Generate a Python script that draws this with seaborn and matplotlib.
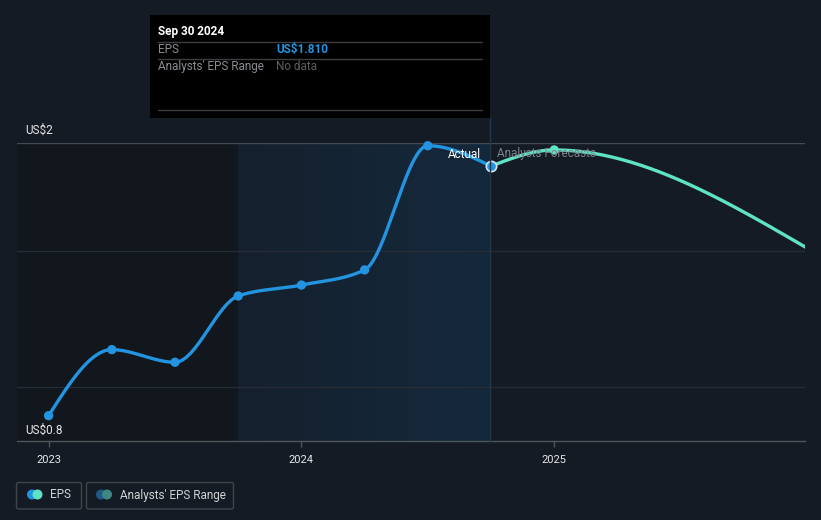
import numpy as np
import pandas as pd
import matplotlib
matplotlib.use("Agg")
import matplotlib.pyplot as plt
from matplotlib.patches import Rectangle, FancyBboxPatch, Circle
import seaborn as sns

# ---------------- data ----------------
actual_dates = [2023.0, 2023.25, 2023.5, 2023.75, 2024.0, 2024.25, 2024.5, 2024.75]
actual_eps = [0.902, 1.168, 1.117, 1.384, 1.428, 1.489, 1.989, 1.907]
forecast_dates = [2024.75, 2025.0, 2026.0]
forecast_eps = [1.907, 1.972, 1.577]
year_ticks = [2023.0, 2024.0, 2025.0]
year_labels = ["2023", "2024", "2025"]
y_labels = ["US$2", "US$0.8"]
grid_values = [1.017, 1.565, 2.0]
tooltip_date = "Sep 30 2024"
tooltip_eps = "US$1.810"

BG = "#151b24"
BLUE = "#2394e0"
TEAL = "#5fe3c6"

sns.set_theme(style="dark")
plt.rcParams["font.family"] = ["Roboto", "DejaVu Sans"]


def monotone(x, y, n=80):
    x = np.asarray(x, float)
    y = np.asarray(y, float)
    h = np.diff(x)
    s = np.diff(y) / h
    m = len(x)
    t = np.zeros(m)
    sg = lambda v: -1.0 if v < 0 else 1.0
    for i in range(1, m - 1):
        p = (s[i - 1] * h[i] + s[i] * h[i - 1]) / (h[i - 1] + h[i])
        t[i] = (sg(s[i - 1]) + sg(s[i])) * min(abs(s[i - 1]), abs(s[i]), 0.5 * abs(p))
    if m > 2:
        t[0] = (3 * s[0] - t[1]) / 2
        t[-1] = (3 * s[-1] - t[-2]) / 2
    else:
        t[:] = s[0]
    xs, ys = [], []
    for i in range(m - 1):
        u = np.linspace(0, 1, n, endpoint=(i == m - 2))
        h00 = 2 * u**3 - 3 * u**2 + 1
        h10 = u**3 - 2 * u**2 + u
        h01 = -2 * u**3 + 3 * u**2
        h11 = u**3 - u**2
        xs.append(x[i] + u * h[i])
        ys.append(h00 * y[i] + h10 * h[i] * t[i] + h01 * y[i + 1] + h11 * h[i] * t[i + 1])
    return np.concatenate(xs), np.concatenate(ys)


W, H = 821, 520
fig = plt.figure(figsize=(W / 100, H / 100), dpi=100, facecolor=BG)

x0, x1, ytop, ybot = 17, 805, 143, 441
ax = fig.add_axes([x0 / W, (H - ybot) / H, (x1 - x0) / W, (ybot - ytop) / H])
ax.set_facecolor(BG)
xmin, xmax = 2022.875, 2025.992
ymin, ymax = 0.8, 2.0
ax.set_xlim(xmin, xmax)
ax.set_ylim(ymin, ymax)

# shaded regions
ax.axvspan(xmin, 2023.75, color="#12161d", zorder=0, lw=0)
grad = np.linspace(0, 1, 256).reshape(1, -1)
from matplotlib.colors import LinearSegmentedColormap
cmap = LinearSegmentedColormap.from_list("hl", ["#14202d", "#15293c"])
ax.imshow(grad, extent=[2023.75, 2024.75, ymin, ymax], aspect="auto", cmap=cmap,
          zorder=0.5, interpolation="bicubic")
ax.set_xlim(xmin, xmax)
ax.set_ylim(ymin, ymax)

# gridlines
for g in grid_values:
    col = "#454a52" if g == ymax else "#262c35"
    ax.axhline(g, color=col, lw=1, zorder=1)

# lines
ax_x, ax_y = monotone(actual_dates, actual_eps)
fx, fy = monotone(forecast_dates, forecast_eps)
sns.lineplot(x=fx, y=fy, ax=ax, color=TEAL, lw=2.4, zorder=3, sort=False)
sns.lineplot(x=ax_x, y=ax_y, ax=ax, color=BLUE, lw=2.4, zorder=4, sort=False)
sns.scatterplot(x=forecast_dates[1:2], y=forecast_eps[1:2], ax=ax, color=TEAL, s=45,
                edgecolor="none", zorder=5, clip_on=False)
sns.scatterplot(x=actual_dates[:-1], y=actual_eps[:-1], ax=ax, color=BLUE, s=45,
                edgecolor="none", zorder=5, clip_on=False)
sns.scatterplot(x=actual_dates[-1:], y=actual_eps[-1:], ax=ax, color=BLUE, s=55,
                edgecolor="#cfe6f7", linewidth=1.2, zorder=6, clip_on=False)

# axes styling
for side in ["top", "left", "right"]:
    ax.spines[side].set_visible(False)
ax.spines["bottom"].set_color("#50555c")
ax.spines["bottom"].set_linewidth(1)
ax.set_yticks([])
ax.set_xticks(year_ticks)
ax.set_xticklabels(year_labels, color="#e6e6e6", fontsize=8)
ax.tick_params(axis="x", length=4, width=1, color="#50555c", pad=6, bottom=True)
ax.grid(False)
ax.set_xlabel("")
ax.set_ylabel("")

# overlay in pixel coordinates
ov = fig.add_axes([0, 0, 1, 1], zorder=10)
ov.set_xlim(0, W)
ov.set_ylim(H, 0)
ov.axis("off")
ov.patch.set_alpha(0)

ov.plot([489.5, 489.5], [118, 441], color="#22364a", lw=1, zorder=1)
ov.text(25, 130, y_labels[0], color="#e6e6e6", fontsize=8.5, va="center", ha="left")
ov.text(25, 430, y_labels[1], color="#e6e6e6", fontsize=8.5, va="center", ha="left")
ov.text(481, 154, "Actual", color="#ffffff", fontsize=8.5, va="center", ha="right")
ov.text(497, 154, "Analysts Forecasts", color="#7d8288", fontsize=8.5, va="center", ha="left")

# tooltip
ov.add_patch(Rectangle((150, 15), 340, 103, facecolor="#000000", edgecolor="none", zorder=2))
ov.text(158, 31, tooltip_date, color="#ffffff", fontsize=8.5, fontweight="bold", va="center", zorder=3)
for yy in (41.5, 58.5, 109.5):
    ov.plot([158, 482], [yy, yy], color="#3a3d42", lw=1, zorder=3)
ov.text(158, 49.5, "EPS", color="#8a8d91", fontsize=8.5, va="center", zorder=3)
ov.text(276, 49.5, tooltip_eps, color="#2394e0", fontsize=8.5, fontweight="bold", va="center", zorder=3)
ov.text(158, 66.5, "Analysts' EPS Range", color="#8a8d91", fontsize=8.5, va="center", zorder=3)
ov.text(276, 66.5, "No data", color="#5c5f63", fontsize=8.5, va="center", zorder=3)

# legend
for (lx, lw_) in [(16.5, 65), (86.5, 147)]:
    ov.add_patch(FancyBboxPatch((lx, 482.5), lw_, 26.5, boxstyle="round,pad=0,rounding_size=2",
                                facecolor="none", edgecolor="#40454c", lw=1, zorder=3))
ov.add_patch(Circle((32, 494.5), 4.3, color=BLUE, zorder=4))
ov.add_patch(Circle((37.5, 494.5), 4.3, color=TEAL, zorder=5))
ov.text(50, 495, "EPS", color="#d0d2d5", fontsize=8.5, va="center", zorder=4)
ov.add_patch(Circle((101, 494.5), 4.3, color="#1f5a85", zorder=4))
ov.add_patch(Circle((107, 494.5), 4.3, color="#3d8884", zorder=5))
ov.text(120, 495, "Analysts' EPS Range", color="#d0d2d5", fontsize=8.5, va="center", zorder=4)

fig.savefig("out.png", dpi=100, facecolor=BG)
